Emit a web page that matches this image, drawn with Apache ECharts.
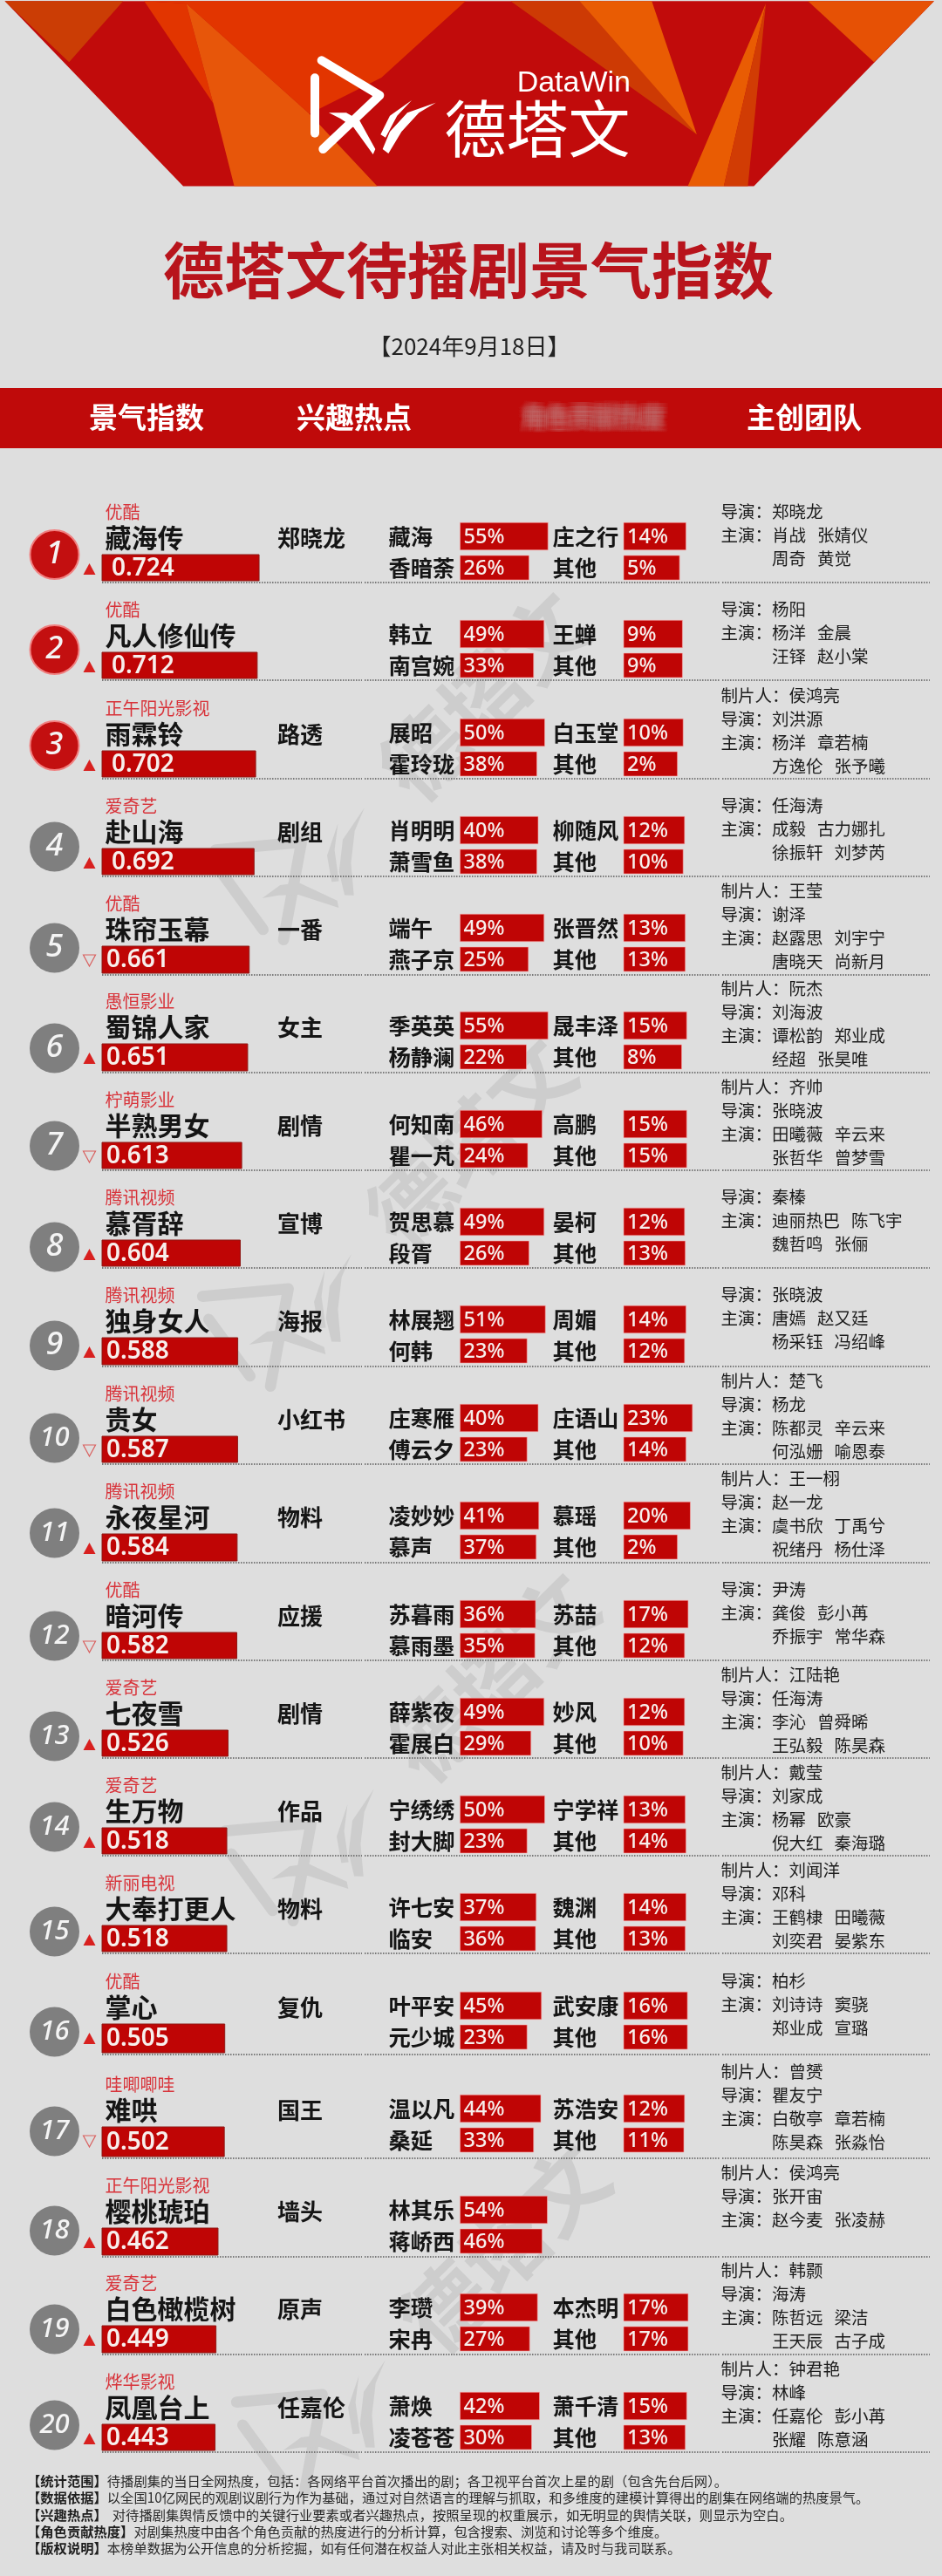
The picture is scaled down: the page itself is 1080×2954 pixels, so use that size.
<!DOCTYPE html>
<html>
<head>
<meta charset="utf-8">
<style>html,body{margin:0;padding:0;background:#dedede}#chart{width:1080px;height:2954px}</style>
<script src="https://cdn.jsdelivr.net/npm/echarts@6/dist/echarts.min.js"></script>
</head>
<body>
<div id="chart"></div>
<script>
// chart values, one list per column
var platforms = ["优酷","优酷","正午阳光影视","爱奇艺","优酷","愚恒影业","柠萌影业","腾讯视频","腾讯视频","腾讯视频","腾讯视频","优酷","爱奇艺","爱奇艺","新丽电视","优酷","哇唧唧哇","正午阳光影视","爱奇艺","烨华影视"];
var titles = ["藏海传","凡人修仙传","雨霖铃","赴山海","珠帘玉幕","蜀锦人家","半熟男女","慕胥辞","独身女人","贵女","永夜星河","暗河传","七夜雪","生万物","大奉打更人","掌心","难哄","樱桃琥珀","白色橄榄树","凤凰台上"];
var indexValues = [0.724,0.712,0.702,0.692,0.661,0.651,0.613,0.604,0.588,0.587,0.584,0.582,0.526,0.518,0.518,0.505,0.502,0.462,0.449,0.443];
var trends = ["up","up","up","up","down","up","down","up","up","down","up","down","up","up","up","up","down","up","up","up"];
var hotTopics = ["郑晓龙","","路透","剧组","一番","女主","剧情","宣博","海报","小红书","物料","应援","剧情","作品","物料","复仇","国王","墙头","原声","任嘉伦"];

var roleA = ["藏海","韩立","展昭","肖明明","端午","季英英","何知南","贺思慕","林展翘","庄寒雁","凌妙妙","苏暮雨","薛紫夜","宁绣绣","许七安","叶平安","温以凡","林其乐","李瓒","萧焕"];
var roleAShare = [55,49,50,40,49,55,46,49,51,40,41,36,49,50,37,45,44,54,39,42];
var roleB = ["香暗荼","南宫婉","霍玲珑","萧雪鱼","燕子京","杨静澜","瞿一芃","段胥","何韩","傅云夕","慕声","慕雨墨","霍展白","封大脚","临安","元少城","桑延","蒋峤西","宋冉","凌苍苍"];
var roleBShare = [26,33,38,38,25,22,24,26,23,23,37,35,29,23,36,23,33,46,27,30];
var roleC = ["庄之行","王蝉","白玉堂","柳随风","张晋然","晟丰泽","高鹏","晏柯","周媚","庄语山","慕瑶","苏喆","妙风","宁学祥","魏渊","武安康","苏浩安","","本杰明","萧千清"];
var roleCShare = [14,9,10,12,13,15,15,12,14,23,20,17,12,13,14,16,12,null,17,15];
var otherShare = [5,9,2,10,13,8,15,13,12,14,2,12,10,14,13,16,11,null,17,13];

var producers = ["","","侯鸿亮","","王莹","阮杰","齐帅","","","楚飞","王一栩","","江陆艳","戴莹","刘闻洋","","曾赟","侯鸿亮","韩颢","钟君艳"];
var directors = ["郑晓龙","杨阳","刘洪源","任海涛","谢泽","刘海波","张晓波","秦榛","张晓波","杨龙","赵一龙","尹涛","任海涛","刘家成","邓科","柏杉","瞿友宁","张开宙","海涛","林峰"];
var castLine1 = ["肖战   张婧仪","杨洋   金晨","杨洋   章若楠","成毅   古力娜扎","赵露思   刘宇宁","谭松韵   郑业成","田曦薇   辛云来","迪丽热巴   陈飞宇","唐嫣   赵又廷","陈都灵   辛云来","虞书欣   丁禹兮","龚俊   彭小苒","李沁   曾舜晞","杨幂   欧豪","王鹤棣   田曦薇","刘诗诗   窦骁","白敬亭   章若楠","赵今麦   张凌赫","陈哲远   梁洁","任嘉伦   彭小苒"];
var castLine2 = ["周奇   黄觉","汪铎   赵小棠","方逸伦   张予曦","徐振轩   刘梦芮","唐晓天   尚新月","经超   张昊唯","张哲华   曾梦雪","魏哲鸣   张俪","杨采钰   冯绍峰","何泓姗   喻恩泰","祝绪丹   杨仕泽","乔振宇   常华森","王弘毅   陈昊森","倪大红   秦海璐","刘奕君   晏紫东","郑业成   宣璐","陈昊森   张淼怡","","王天辰   古子成","张耀   陈意涵"];

var footerLabels = ["【统计范围】","【数据依据】","【兴趣热点】","【角色贡献热度】","【版权说明】"];
var footerBodies = [
  "待播剧集的当日全网热度，包括：各网络平台首次播出的剧；各卫视平台首次上星的剧（包含先台后网）。",
  "以全国10亿网民的观剧议剧行为作为基础，通过对自然语言的理解与抓取，和多维度的建模计算得出的剧集在网络端的热度景气。",
  "对待播剧集舆情反馈中的关键行业要素或者兴趣热点，按照呈现的权重展示，如无明显的舆情关联，则显示为空白。",
  "对剧集热度中由各个角色贡献的热度进行的分析计算，包含搜索、浏览和讨论等多个维度。",
  "本榜单数据为公开信息的分析挖掘，如有任何潜在权益人对此主张相关权益，请及时与我司联系。"
];

// page layout, rows are not quite evenly spaced in the original
var rowTops = [636,748,861,973,1085,1197,1310,1422,1534,1647,1759,1872,1984,2096,2208,2321,2439,2555,2667,2780];
var rowBottoms = [666,778,891,1003,1116,1228,1340,1452,1565,1677,1790,1902,2014,2126,2238,2354,2473,2586,2698,2810];
var badgeCenters = [636,745,855,971,1087,1202,1314,1430,1543,1649,1758,1876,1991,2095,2215,2330,2444,2558,2671,2781];
var watermarkAt = [[345,983],[330,1495],[356,2108],[369,2763]];

var CJK = '"Noto Sans CJK SC"';
var RED = "#bf0505";
var INK = "#151515";

var grids = [], xAxes = [], yAxes = [], series = [], elements = [];

function text(x, y, s, font, fill, align, z) {
  return {
    type: "text", x: x, y: y, z: z || 6, silent: true,
    style: { text: s, font: font, fill: fill, align: align || "left", verticalAlign: "middle" }
  };
}

function poly(points, fill, z) {
  return { type: "polygon", z: z || 1, silent: true, shape: { points: points }, style: { fill: fill } };
}

function bannerFacet(pts, fill) {
  return poly(pts.map(function (p) { return [p[0] / 1.452, p[1] / 2.529]; }), fill, 1);
}
[
  [[[8,3],[1555,3],[1255,540],[305,540]], "#c10b0b"],
  [[[8,3],[205,3],[115,180]], "#cb3d05"],
  [[[240,3],[775,3],[635,225],[515,330],[310,10]], "#e23500"],
  [[[240,3],[310,10],[355,300]], "#e23500"],
  [[[310,10],[515,330],[628,540],[390,540],[355,300]], "#e7560a"],
  [[[850,3],[1000,3],[1160,390]], "#cd3a04"],
  [[[965,3],[1085,3],[1160,390]], "#e95c03"],
  [[[1275,10],[1205,540],[1145,540]], "#e95c03"],
  [[[1275,10],[1245,540],[1205,540]], "#d13c04"],
  [[[1345,3],[1555,3],[1455,180]], "#e65105"]
].forEach(function (f) { elements.push(bannerFacet(f[0], f[1])); });

// the logo mark, drawn around its own centre so the watermark can reuse it
function logoMark(cx, cy, scale, rotation, color, z) {
  function m(x, y) { return [(x - 260) / 3, (y - 197) / 3]; }
  var stroke = { stroke: color, lineWidth: 10, lineCap: "round", lineJoin: "round", fill: null };
  return {
    type: "group", x: cx, y: cy, scaleX: scale, scaleY: scale, rotation: rotation, z: z, silent: true,
    children: [
      { type: "polyline", z: z, shape: { points: [m(85,45), m(285,165), m(90,350)] }, style: stroke },
      { type: "polyline", z: z, shape: { points: [m(62,105), m(62,295)] }, style: stroke },
      { type: "polygon", z: z, shape: { points: [m(110,225),m(170,225),m(215,250),m(270,350),m(262,368),m(195,275),m(150,245)] }, style: { fill: color } },
      { type: "polygon", z: z, shape: { points: [m(288,300),m(320,235),m(395,182),m(345,235),m(305,310)] }, style: { fill: color } },
      { type: "polygon", z: z, shape: { points: [m(295,350),m(320,290),m(380,225),m(478,190),m(420,225),m(360,290),m(315,365)] }, style: { fill: color } }
    ]
  };
}
elements.push(logoMark(427, 120, 1, 0, "#fff", 3));
elements.push(text(723, 96, "DataWin", '400 34px "Liberation Sans"', "#fff", "right", 3));
elements.push(text(616, 147, "德塔文", "400 71px " + CJK, "#fff", "center", 3));

// ---- watermarks have to sit under the bars, so they go in a series and not in graphic
series.push({
  type: "custom", coordinateSystem: "none", z: 0, silent: true, data: watermarkAt,
  renderItem: function (params, api) {
    var cx = api.value(0), cy = api.value(1);
    return {
      type: "group",
      children: [
        logoMark(cx, cy, 1.27, 0.63, "#cdcdcd"),
        { type: "text", x: cx + 210, y: cy - 185, rotation: 0.78,
          style: { text: "德塔文", font: "700 96px " + CJK, fill: "#cdcdcd", align: "center", verticalAlign: "middle" } }
      ]
    };
  }
});

// ---- title block
elements.push(text(537, 310, "德塔文待播剧景气指数", "700 70px " + CJK, "#b8141c", "center"));
elements.push(text(538, 397, "【2024年9月18日】", "400 26px " + CJK, "#222", "center"));
elements.push({ type: "rect", z: 1, silent: true, shape: { x: 0, y: 445, width: 1080, height: 69 }, style: { fill: "#bf0a0a" } });
elements.push(text(168, 478, "景气指数", "700 33px " + CJK, "#fff", "center"));
elements.push(text(406, 478, "兴趣热点", "700 33px " + CJK, "#fff", "center"));
elements.push(text(922, 478, "主创团队", "700 33px " + CJK, "#fff", "center"));
// this column head is blurred out in the original: smear it with faint offset copies
[-6, -4, -2, 0, 2, 4, 6].forEach(function (dx) {
  [-5, -2.5, 0, 2.5, 5].forEach(function (dy) {
    elements.push(text(680 + dx, 478 + dy, "角色贡献热度", "700 27px " + CJK, "rgba(205,120,110,0.07)", "center"));
  });
});

// ---- bars: the original does not start them at zero, so draw from the axis minimum
function indexBar(axisMin, inset) {
  return function (params, api) {
    var from = api.coord([axisMin, 0]);
    var to = api.coord([api.value(0), 0]);
    var h = api.size([0, 1])[1];
    return {
      type: "group",
      children: [
        { type: "rect", shape: { x: from[0], y: from[1] - h / 2, width: to[0] - from[0], height: h },
          style: { fill: RED, stroke: "#8e1a17", lineWidth: 1 } },
        { type: "text", style: { x: from[0] + inset, y: from[1] + 1, text: api.value(0).toFixed(3),
          font: '600 28px "Noto Sans"', fill: "#f7efec", align: "left", verticalAlign: "middle" } }
      ]
    };
  };
}

function shareBar(axisMin) {
  return function (params, api) {
    var cat = api.value(1);
    var from = api.coord([axisMin, cat]);
    var to = api.coord([api.value(0), cat]);
    var h = cat === 0 ? 31.5 : 28;
    return {
      type: "group",
      children: [
        { type: "rect", shape: { x: from[0], y: from[1] - h / 2, width: to[0] - from[0], height: h },
          style: { fill: RED, stroke: "rgba(250,170,170,0.6)", lineWidth: 1 } },
        { type: "text", style: { x: from[0] + 4, y: from[1] + 1, text: api.value(0) + "%",
          font: '500 23.5px "Noto Sans"', fill: "#f7efec", align: "left", verticalAlign: "middle" } }
      ]
    };
  };
}

function addGrid(left, top, width, height, axisMin, axisMax, names, labelMargin) {
  var idx = grids.length;
  grids.push({ left: left, top: top, width: width, height: height });
  xAxes.push({ type: "value", gridIndex: idx, min: axisMin, max: axisMax, show: false });
  yAxes.push({
    type: "category", gridIndex: idx, inverse: true, data: names, z: 5,
    axisLine: { show: false }, axisTick: { show: false }, splitLine: { show: false },
    axisLabel: { show: !!labelMargin, interval: 0, margin: labelMargin || 0, align: "left",
      color: INK, fontFamily: "Noto Sans CJK SC", fontWeight: 700, fontSize: 25.3 }
  });
  return idx;
}

function addSeries(idx, render, rows) {
  series.push({
    type: "custom", xAxisIndex: idx, yAxisIndex: idx, z: 5, silent: true, clip: false,
    encode: { x: 0, y: 1 }, renderItem: render, data: rows
  });
}

var INDEX_MIN = -0.278, INDEX_MAX = 0.8;
var A_MIN = -79.33, A_MAX = 60;
var C_MIN = -73.17, C_MAX = 30;

titles.forEach(function (title, i) {
  var top = rowTops[i], bottom = rowBottoms[i];

  // index bar
  var g = addGrid(117, top, 193.7, bottom - top, INDEX_MIN, INDEX_MAX, [title], 0);
  addSeries(g, indexBar(INDEX_MIN, i < 4 ? 11 : 5), [[indexValues[i], 0]]);

  // role share bars, names come from the axis labels
  g = addGrid(527.5, top - 39, 104.5, 72, A_MIN, A_MAX, [roleA[i], roleB[i]], 82);
  addSeries(g, shareBar(A_MIN), [[roleAShare[i], 0], [roleBShare[i], 1]]);
  if (roleCShare[i] !== null) {
    g = addGrid(715, top - 39, 84.6, 72, C_MIN, C_MAX, [roleC[i], "其他"], 81.5);
    addSeries(g, shareBar(C_MIN), [[roleCShare[i], 0], [otherShare[i], 1]]);
  }

  // badge with rank
  var cy = badgeCenters[i];
  elements.push({ type: "circle", z: 3, silent: true, shape: { cx: 62.5, cy: cy, r: i < 3 ? 28 : 28.5 },
    style: i < 3 ? { fill: "#c30f10", stroke: "#f08080", lineWidth: 2 } : { fill: "#7f7f7f" } });
  var rank = text(62.5, cy, String(i + 1), "italic 500 " + (i < 9 ? 36 : 31) + 'px "Noto Sans"', "#f4f4f4", "center", 4);
  elements.push(rank);

  // trend marker
  var ty = top + 16.5;
  var tri = trends[i] === "up"
    ? [[95.5, ty + 6.5], [109.5, ty + 6.5], [102.5, ty - 6.5]]
    : [[95.5, ty - 6.5], [109.5, ty - 6.5], [102.5, ty + 6.5]];
  elements.push({ type: "polygon", z: 4, silent: true, shape: { points: tri },
    style: trends[i] === "up" ? { fill: "#d8201f" } : { fill: null, stroke: "#d9605f", lineWidth: 1.2 } });

  // left text block
  elements.push(text(120.5, top - 49, platforms[i], "400 20px " + CJK, "#d8333a"));
  elements.push(text(120.5, top - 19, title, "700 30px " + CJK, INK));
  if (hotTopics[i]) {
    elements.push(text(318, top - 19, hotTopics[i], "700 26px " + CJK, INK));
  }

  // team block
  var lines = [];
  if (producers[i]) { lines.push([826.4, "制片人：" + producers[i]]); }
  lines.push([826.4, "导演：" + directors[i]]);
  lines.push([826.4, "主演：" + castLine1[i]]);
  if (castLine2[i]) { lines.push([885, castLine2[i]]); }
  var ly = top + (producers[i] ? -63.5 : -49);
  lines.forEach(function (l, k) {
    elements.push(text(l[0], ly + k * 27, l[1], "400 19.5px " + CJK, "#1c1c1c"));
  });

  // dotted rule under the row
  [[117, 415], [418, 825], [828, 1066]].forEach(function (seg) {
    elements.push({ type: "line", z: 4, silent: true, shape: { x1: seg[0], y1: bottom + 2, x2: seg[1], y2: bottom + 2 },
      style: { stroke: "#5a5a5a", lineWidth: 1.5, lineDash: [1.5, 1.5] } });
  });
});

// ---- footnotes
var FOOT = 15.3;
var footerY = [2845, 2864.3, 2883.7, 2902.7, 2922.3];
footerLabels.forEach(function (label, i) {
  var bodyX = 31 + label.length * FOOT + (i === 2 ? 6 : 0);
  elements.push(text(31, footerY[i], label, "700 " + FOOT + "px " + CJK, "#1d1d1d"));
  elements.push(text(bodyX, footerY[i], footerBodies[i], "400 " + FOOT + "px " + CJK, "#2a2a2a"));
});

var chart = echarts.init(document.getElementById("chart"));
chart.setOption({
  animation: false,
  backgroundColor: "#dedede",
  tooltip: { show: false },
  graphic: { elements: elements },
  grid: grids,
  xAxis: xAxes,
  yAxis: yAxes,
  series: series
});
</script>
</body>
</html>
